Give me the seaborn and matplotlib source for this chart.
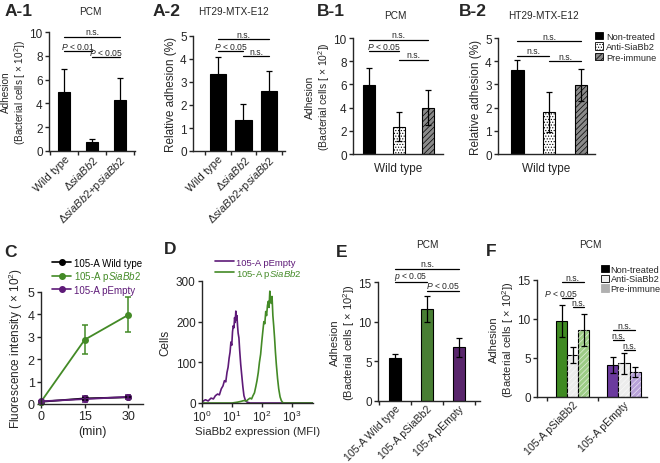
import numpy as np
import pandas as pd
import matplotlib
matplotlib.use("Agg")
import matplotlib.pyplot as plt
from matplotlib.patches import Patch, Rectangle
from matplotlib.lines import Line2D
import seaborn as sns

# ---- data ----
a_labels = ["Wild type", r"Δ$\it{siaBb2}$", r"Δ$\it{siaBb2}$+p$\it{siaBb2}$"]
a1_mean = [5.0, 0.75, 4.25]
a1_err = [1.85, 0.3, 1.9]
a2_mean = [3.35, 1.35, 2.6]
a2_err = [0.75, 0.68, 0.88]

b_groups = ["Non-treated", "Anti-SiaBb2", "Pre-immune"]
b1_mean = [5.95, 2.35, 4.0]
b1_err = [1.45, 1.25, 1.5]
b2_mean = [3.6, 1.8, 2.97]
b2_err = [0.47, 0.87, 0.68]

c_time = [0, 15, 30]
c_wt = [0.1, 0.25, 0.3]
c_wt_err = [0.02, 0.05, 0.05]
c_psia = [0.1, 2.87, 3.98]
c_psia_err = [0.03, 0.65, 0.78]
c_pempty = [0.12, 0.22, 0.32]
c_pempty_err = [0.03, 0.15, 0.08]

d_empty_x = [1.0, 1.3, 1.6, 2.0, 2.4, 2.8, 3.3, 3.8, 4.4, 5.0, 5.6, 6.2, 6.8, 7.4, 8.0,
             8.6, 9.2, 9.8, 10.4, 11.0, 11.6, 12.2, 12.8, 13.4, 14.0, 14.6, 15.3, 16.0,
             17.0, 18.0, 19.5, 21, 23, 25, 28, 32, 40, 60, 100, 200, 500, 1000, 5000]
d_empty_y = [3, 8, 5, 12, 10, 18, 22, 20, 35, 42, 55, 52, 75, 88, 110, 125, 150, 142, 175,
             190, 185, 210, 198, 226, 205, 215, 190, 172, 160, 130, 95, 70, 40, 18, 6, 2,
             0, 0, 0, 0, 0, 0, 0]
d_sia_x = [1, 5, 10, 15, 20, 25, 30, 35, 40, 45, 50, 56, 62, 68, 75, 82, 90, 98, 106, 115,
           124, 133, 142, 152, 162, 172, 182, 192, 204, 216, 230, 245, 262, 280, 300, 330,
           360, 400, 440, 480, 520, 600, 1000, 5000]
d_sia_y = [0, 0, 0, 2, 4, 6, 5, 9, 12, 10, 18, 25, 40, 55, 75, 100, 120, 150, 175, 200,
           195, 225, 215, 240, 250, 235, 275, 255, 245, 262, 215, 190, 160, 125, 95, 60,
           35, 15, 6, 2, 0, 0, 0, 0]

e_labels = ["105-A Wild type", "105-A pSiaBb2", "105-A pEmpty"]
e_mean = [5.4, 11.6, 6.8]
e_err = [0.5, 1.65, 1.2]

f_strains = ["105-A pSiaBb2", "105-A pEmpty"]
f_non = [9.7, 4.1]
f_non_err = [2.05, 1.0]
f_anti = [5.4, 4.3]
f_anti_err = [1.0, 1.4]
f_pre = [8.6, 3.2]
f_pre_err = [2.0, 0.65]

GREEN = "#438a26"
PURPLE = "#5e1a78"

sns.set_style("ticks")
plt.rcParams["font.family"] = ["Liberation Sans", "DejaVu Sans"]
plt.rcParams["mathtext.fontset"] = "custom"
plt.rcParams["mathtext.rm"] = "Liberation Sans"
plt.rcParams["mathtext.it"] = "Liberation Sans:italic"
plt.rcParams["hatch.linewidth"] = 0.5
plt.rcParams["axes.linewidth"] = 1.0
plt.rcParams["xtick.major.size"] = 3
plt.rcParams["ytick.major.size"] = 3

W, H = 660, 464
fig = plt.figure(figsize=(6.6, 4.64), dpi=100)


def add_ax(x0, x1, ytop, ybot):
    return fig.add_axes([x0 / W, 1 - ybot / H, (x1 - x0) / W, (ybot - ytop) / H])


def ftext(x, y, s, **kw):
    fig.text(x / W, 1 - y / H, s, **kw)


def style(ax, fs=8.5):
    sns.despine(ax=ax)
    ax.tick_params(labelsize=fs, width=1.0, pad=1.5)


def sig(ax, x1, x2, y, text):
    ax.plot([x1, x2], [y, y], color="black", lw=0.9, clip_on=False)
    ax.annotate(text, ((x1 + x2) / 2, y), xytext=(0, 0.3), textcoords="offset points",
                ha="center", va="bottom", fontsize=6.2, annotation_clip=False)


def simple_bars(ax, labels, means, errs, colors, width):
    df = pd.DataFrame({"x": labels, "y": means})
    sns.barplot(data=df, x="x", y="y", hue="x", palette=colors, legend=False,
                width=width, edgecolor="black", linewidth=0.8, errorbar=None, ax=ax)
    ax.errorbar(range(len(labels)), means, yerr=errs, fmt="none", ecolor="black",
                elinewidth=0.9, capsize=2.5, capthick=0.9, zorder=5)
    ax.set_xlabel("")
    ax.set_ylabel("")


def cat_ticks(ax, n, fs=8):
    ax.set_xticks(range(n))
    ax.set_xticks([i - 0.5 for i in range(n + 1)], minor=True)
    ax.tick_params(axis="x", which="major", length=0, labelsize=fs)
    ax.tick_params(axis="x", which="minor", length=3, width=1.0)
    for t in ax.get_xticklabels():
        t.set_rotation(45)
        t.set_ha("right")
        t.set_rotation_mode("anchor")


adh_label = "Adhesion\n(Bacterial cells [ × 10$^2$])"

# ---- A-1 ----
ax = add_ax(49, 135, 33, 152)
simple_bars(ax, a_labels, a1_mean, a1_err, ["black"] * 3, 0.45)
ax.set_ylim(0, 10)
ax.set_xlim(-0.54, 2.54)
ax.set_yticks([0, 2, 4, 6, 8, 10])
style(ax)
cat_ticks(ax, 3)
ax.set_ylabel(adh_label, fontsize=7.2, labelpad=1, linespacing=1.1)
sig(ax, 0, 2, 9.6, "n.s.")
sig(ax, 0, 1, 8.4, r"$\it{P}$ < 0.01")
sig(ax, 1, 2, 7.9, r"$\it{P}$ < 0.05")

# ---- A-2 ----
ax = add_ax(193, 285, 37, 152)
simple_bars(ax, a_labels, a2_mean, a2_err, ["black"] * 3, 0.65)
ax.set_ylim(0, 5)
ax.set_xlim(-0.98, 2.63)
ax.set_yticks([0, 1, 2, 3, 4, 5])
style(ax)
cat_ticks(ax, 3)
ax.set_ylabel("Relative adhesion (%)", fontsize=8.5, labelpad=2)
sig(ax, 0, 2, 4.87, "n.s.")
sig(ax, 0, 1, 4.33, r"$\it{P}$ < 0.05")
sig(ax, 1, 2, 4.12, "n.s.")


def treat_bars(ax, means, errs):
    simple_bars(ax, b_groups, means, errs, ["black", "white", "#8a8a8a"], 0.4)
    ax.patches[1].set_hatch("......")
    ax.patches[2].set_hatch("//////")
    ax.set_xticks([])
    ax.set_xlabel("Wild type", fontsize=8.5, labelpad=6)


# ---- B-1 ----
ax = add_ax(353, 443, 39, 155)
treat_bars(ax, b1_mean, b1_err)
ax.set_ylim(0, 10)
ax.set_xlim(-0.54, 2.5)
ax.set_yticks([0, 2, 4, 6, 8, 10])
style(ax)
ax.set_ylabel(adh_label, fontsize=7.5, labelpad=1, linespacing=1.1)
sig(ax, 0, 2, 9.85, "n.s.")
sig(ax, 0, 1, 8.85, r"$\it{P}$ < 0.05")
sig(ax, 1, 2, 8.13, "n.s.")

# ---- B-2 ----
ax = add_ax(498, 595, 39, 155)
treat_bars(ax, b2_mean, b2_err)
ax.set_ylim(0, 5)
ax.set_xlim(-0.6, 2.44)
ax.set_yticks([0, 1, 2, 3, 4, 5])
style(ax)
ax.set_ylabel("Relative adhesion (%)", fontsize=8.5, labelpad=2)
sig(ax, 0, 2, 4.86, "n.s.")
sig(ax, 0, 1, 4.24, "n.s.")
sig(ax, 1, 2, 4.0, "n.s.")
handles = [Patch(facecolor="black", edgecolor="black", lw=0.6),
           Patch(facecolor="white", edgecolor="black", lw=0.6, hatch="......"),
           Patch(facecolor="#8a8a8a", edgecolor="black", lw=0.6, hatch="//////")]
fig.legend(handles, b_groups, loc="upper left", bbox_to_anchor=(590 / W, 1 - 28 / H),
           frameon=False, fontsize=6.7, handlelength=0.9, handleheight=0.9,
           handletextpad=0.3, labelspacing=0.15, borderpad=0)

# ---- C ----
ax = add_ax(41, 143, 293, 405)
c_df = pd.DataFrame({"t": c_time * 3,
                     "v": c_wt + c_psia + c_pempty,
                     "s": ["wt"] * 3 + ["psia"] * 3 + ["pempty"] * 3})
sns.lineplot(data=c_df, x="t", y="v", hue="s", palette={"wt": "black", "psia": GREEN, "pempty": PURPLE},
             marker="o", markersize=5, markeredgewidth=0, lw=1.3, legend=False, ax=ax, clip_on=False)
for ys, es, col in [(c_wt, c_wt_err, "black"), (c_psia, c_psia_err, GREEN), (c_pempty, c_pempty_err, PURPLE)]:
    ax.errorbar(c_time, ys, yerr=es, fmt="none", ecolor=col, elinewidth=1.1, capsize=2.5,
                capthick=1.1, clip_on=False)
ax.set_xlim(0, 35)
ax.set_ylim(0, 5)
ax.set_xticks([0, 15, 30])
ax.set_yticks([0, 1, 2, 3, 4, 5])
style(ax, 9)
ax.set_xlabel("(min)", fontsize=9, labelpad=2)
ax.set_ylabel("Fluorescence intensity ( × 10$^2$)", fontsize=8.5, labelpad=2)
c_handles = [Line2D([], [], color=c, marker="o", markersize=4, lw=1.2) for c in ["black", GREEN, PURPLE]]
leg = fig.legend(c_handles, ["105-A Wild type", r"105-A p$\it{SiaBb2}$", "105-A pEmpty"],
                 loc="upper left", bbox_to_anchor=(47 / W, 1 - 254 / H), frameon=False,
                 fontsize=7, handlelength=2.0, handletextpad=0.3, labelspacing=0.15, borderpad=0)
for t, c in zip(leg.get_texts(), ["black", GREEN, PURPLE]):
    t.set_color(c)

# ---- D ----
ax = add_ax(202, 313, 282, 404)
sns.lineplot(x=d_empty_x, y=d_empty_y, color=PURPLE, lw=1.2, sort=False, estimator=None, ax=ax)
sns.lineplot(x=d_sia_x, y=d_sia_y, color=GREEN, lw=1.2, sort=False, estimator=None, ax=ax)
ax.set_xscale("log")
ax.set_xlim(1, 5000)
ax.set_ylim(0, 300)
ax.set_xticks([1, 10, 100, 1000])
ax.minorticks_off()
ax.set_yticks([0, 100, 200, 300])
style(ax, 8.5)
ax.set_xlabel("SiaBb2 expression (MFI)", fontsize=8.2, labelpad=1)
ax.set_ylabel("Cells", fontsize=8.5, labelpad=3)
d_handles = [Line2D([], [], color=c, lw=1.2) for c in [PURPLE, GREEN]]
leg = fig.legend(d_handles, ["105-A pEmpty", r"105-A p$\it{SiaBb2}$"], loc="upper left",
                 bbox_to_anchor=(210 / W, 1 - 254 / H), frameon=False, fontsize=6.8,
                 handlelength=2.0, handletextpad=0.3, labelspacing=0.0, borderpad=0)
for t, c in zip(leg.get_texts(), [PURPLE, GREEN]):
    t.set_color(c)

# ---- E ----
ax = add_ax(378, 480, 283, 402)
simple_bars(ax, e_labels, e_mean, e_err, ["black", GREEN, PURPLE], 0.4)
ax.set_ylim(0, 15)
ax.set_xlim(-0.53, 2.66)
ax.set_yticks([0, 5, 10, 15])
style(ax)
cat_ticks(ax, 3, fs=7.6)
ax.set_ylabel(adh_label, fontsize=8, labelpad=1, linespacing=1.1)
sig(ax, 0, 2, 16.7, "n.s.")
sig(ax, 0, 1, 15.0, r"$\it{p}$ < 0.05")
sig(ax, 1, 2, 13.9, r"$\it{P}$ < 0.05")

# ---- F ----
ax = add_ax(537, 647, 281, 398)
f_df = pd.DataFrame({"strain": f_strains * 3,
                     "treat": [b_groups[0]] * 2 + [b_groups[1]] * 2 + [b_groups[2]] * 2,
                     "y": f_non + f_anti + f_pre})
sns.barplot(data=f_df, x="strain", y="y", hue="treat", width=0.65, edgecolor="black",
            linewidth=0.8, errorbar=None, legend=False, ax=ax)
f_colors = [["#3f8a22", "#6b3a9e"], ["#ececec", "#ececec"], ["#9dcc86", "#b8a2d8"]]
f_errs = [f_non_err, f_anti_err, f_pre_err]
f_vals = [f_non, f_anti, f_pre]
centers = []
bar_conts = list(ax.containers)
for i, cont in enumerate(bar_conts):
    row = []
    for j, bar in enumerate(cont.patches):
        bar.set_facecolor(f_colors[i][j])
        xc = bar.get_x() + bar.get_width() / 2
        row.append(xc)
        if i > 0:
            ax.add_patch(Rectangle((bar.get_x(), 0), bar.get_width(), bar.get_height(),
                                   facecolor="none", edgecolor="white", lw=0, hatch="//////",
                                   alpha=0.7, zorder=bar.get_zorder() + 0.1))
    centers.append(row)
for i in range(3):
    ax.errorbar(centers[i], f_vals[i], yerr=f_errs[i], fmt="none", ecolor="black", elinewidth=0.9,
                capsize=2.5, capthick=0.9, zorder=5)
ax.set_ylim(0, 15)
ax.set_xlim(-0.7, 1.45)
ax.set_yticks([0, 5, 10, 15])
ax.set_xlabel("")
ax.set_ylabel("")
style(ax)
ax.set_xticks([0, 1])
ax.set_xticks([-0.5, 0.5], minor=True)
ax.tick_params(axis="x", which="major", length=0, labelsize=7.6)
ax.tick_params(axis="x", which="minor", length=3, width=1.0)
for t in ax.get_xticklabels():
    t.set_rotation(45)
    t.set_ha("right")
    t.set_rotation_mode("anchor")
ax.set_ylabel(adh_label, fontsize=8, labelpad=1, linespacing=1.1)
sig(ax, centers[0][0], centers[2][0], 14.7, "n.s.")
ax.plot([centers[0][0], centers[1][0]], [12.65, 12.65], color="black", lw=0.9)
ax.annotate(r"$\it{P}$ < 0.05", (centers[0][0] - 0.02, 12.65), xytext=(0, 0.3),
            textcoords="offset points", ha="center", va="bottom", fontsize=6.2)
sig(ax, centers[1][0], centers[2][0], 11.5, "n.s.")
sig(ax, centers[0][1], centers[2][1], 8.6, "n.s.")
sig(ax, centers[0][1], centers[1][1], 7.3, "n.s.")
sig(ax, centers[1][1], centers[2][1], 6.0, "n.s.")
f_handles = [Patch(facecolor="black", edgecolor="black", lw=0.6),
             Patch(facecolor="#f2f2f2", edgecolor="black", lw=0.6),
             Patch(facecolor="#b0b0b0", edgecolor="#b0b0b0", lw=0.6, hatch="//////")]
fig.legend(f_handles, b_groups, loc="upper left", bbox_to_anchor=(596 / W, 1 - 261 / H),
           frameon=False, fontsize=6.6, handlelength=0.9, handleheight=0.9,
           handletextpad=0.2, labelspacing=0.1, borderpad=0)

# ---- panel letters and titles ----
for x, y, s in [(5, 12, "A-1"), (153, 12, "A-2"), (317, 12, "B-1"), (459, 12, "B-2"),
                (4, 253, "C"), (164, 250, "D"), (336, 253, "E"), (486, 252, "F")]:
    ftext(x, y, s, fontsize=12.5, fontweight="bold", va="center", ha="left")
for x, y, s in [(90, 12, "PCM"), (233, 12, "HT29-MTX-E12"), (395, 16, "PCM"),
                (543, 16, "HT29-MTX-E12"), (427, 245, "PCM"), (590, 245, "PCM")]:
    ftext(x, y, s, fontsize=7.2, va="center", ha="center")

fig.savefig("out.png", dpi=100)
